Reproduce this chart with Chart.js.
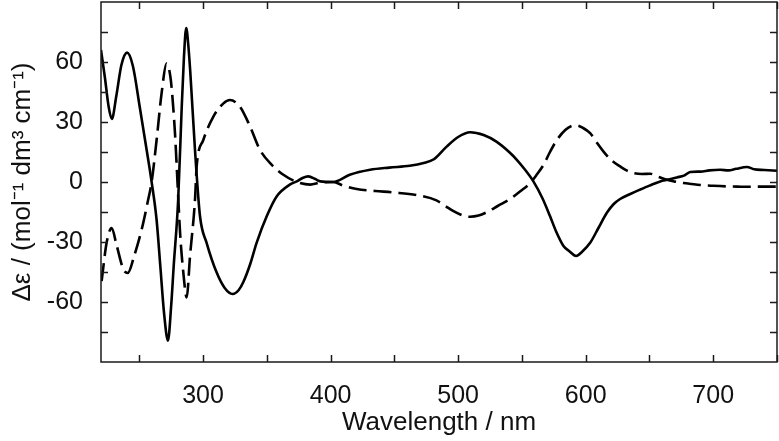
<!DOCTYPE html>
<html>
<head>
<meta charset="utf-8">
<script src="https://cdn.jsdelivr.net/npm/chart.js@4/dist/chart.umd.min.js"></script>
<style>
  html, body { margin: 0; padding: 0; background: #fff; }
  #wrap { width: 779px; height: 441px; }
</style>
</head>
<body>
<div id="wrap"><canvas id="c" width="779" height="441"></canvas></div>
<script>
// ---- data ----
const solidWavelength = [220,223,226,228.5,232,236,240.5,245,250.5,255.8,259.7,263.6,266.5,269.5,272.5,275,277,280.5,283.2,285,286.8,288.5,290,293.7,297.6,302.8,310.7,317,323.2,328,331.6,337,342,350,357.7,368,373.5,378,382.6,388,392,402,415,431,446,462,473,481,491,500,509.4,520,530,540,546,552,559,566,572,577,582.6,587,592.5,597,603.5,610,616.6,622,627,635,642.7,650,658.4,665,671.5,677,682,690,697,705.5,712,718,726.4,732,740,750];
const solidValues = [66,52.5,37.6,31.5,43,58.5,64.7,58,37,16,0,-19,-42,-66,-79.3,-62,-42,-9,36,62,77,68,55,16,-17,-30.4,-45.3,-53,-56,-54,-50,-41,-30.4,-17,-7.2,-1.3,0.3,2,2.8,1.5,0.3,0,3.6,6.1,7.2,8.1,9.5,11.4,17.7,22.5,24.9,23.5,20.2,15,11.1,6.5,0.3,-8,-17,-25,-32,-34.5,-37,-35,-30.4,-23,-15.4,-11,-8.5,-6,-3.8,-1.8,0.3,1.2,2.3,3.2,5,5.2,5.8,6.1,5.8,6.6,7.5,6.4,6,5.6];

const dashedWavelength = [220.5,224.4,228.4,232,237.5,241,246,251.9,257,259.7,263.6,267.5,271.4,273.5,275.3,278,280,282,284.5,287.2,289.8,293.7,295,300.2,308,316,321,329,336.9,344.7,353.9,363,373.5,384,392,402,410,420.5,435,449.3,470,483,490,496.4,503,509.4,516,522.5,531,540.8,549,556.5,562,567,572,577.4,584,589,593,598,603.5,609,614,620,627,632,637.5,644,650.6,657,663.6,670,676.7,683,689.8,700,710.7,719,727,735,742,750];
const dashedValues = [-49.5,-30.4,-23,-31,-43.6,-45.5,-37,-23.7,-8.8,0,21,44.3,59.2,56,47.6,24.4,-0.5,-25.4,-45,-57.7,-37,-8.8,7.8,21,32.6,39.3,41,37.6,27.7,16,8.6,3.6,0,-1.3,-0.3,0,-1.8,-3.5,-4.5,-5.2,-6.8,-9.2,-12,-14.6,-16.6,-17.4,-16.8,-15.1,-12,-8.5,-4.5,-0.5,4,8.6,15,21,26,28,28.3,27,24.4,19.5,15.2,11,7.8,5.8,4.5,4,4.1,2.6,1.1,0.2,-0.5,-1,-1.5,-1.9,-2.2,-2.3,-2.4,-2.3,-2.3,-2.3];

const xLabelTicks = [300,400,500,600,700];
const xMarkTicks = [250,300,350,400,450,500,550,600,650,700,750];
const yLabelTicks = [-60,-30,0,30,60];
const yMarkTicks = [-75,-60,-45,-30,-15,0,15,30,45,60,75];

const xTitle = 'Wavelength / nm';
const yTitle = 'Δε / (mol⁻¹ dm³ cm⁻¹)';

function toPoints(xs, ys) { return xs.map((x, i) => ({ x: x, y: ys[i] })); }

const framePlugin = {
  id: 'frameTicks',
  afterDatasetsDraw(chart) {
    const { ctx, chartArea: a, scales } = chart;
    ctx.save();
    ctx.strokeStyle = '#1a1a1a';
    ctx.lineWidth = 1.5;
    ctx.strokeRect(a.left, a.top, a.right - a.left, a.bottom - a.top);
    const L = 7;
    ctx.beginPath();
    xMarkTicks.forEach(v => {
      const px = Math.round(scales.x.getPixelForValue(v)) + 0.5;
      ctx.moveTo(px, a.bottom); ctx.lineTo(px, a.bottom - L);
      ctx.moveTo(px, a.top); ctx.lineTo(px, a.top + L);
    });
    yMarkTicks.forEach(v => {
      const py = Math.round(scales.y.getPixelForValue(v)) + 0.5;
      ctx.moveTo(a.left, py); ctx.lineTo(a.left + L, py);
      ctx.moveTo(a.right, py); ctx.lineTo(a.right - L, py);
    });
    ctx.stroke();
    ctx.restore();
  }
};

new Chart(document.getElementById('c'), {
  type: 'line',
  data: {
    datasets: [
      {
        data: toPoints(solidWavelength, solidValues),
        borderColor: '#000',
        borderWidth: 2.6,
        pointRadius: 0,
        cubicInterpolationMode: 'monotone',
        fill: false
      },
      {
        data: toPoints(dashedWavelength, dashedValues),
        borderColor: '#000',
        borderWidth: 2.6,
        borderDash: [18, 7],
        pointRadius: 0,
        cubicInterpolationMode: 'monotone',
        fill: false
      }
    ]
  },
  options: {
    responsive: false,
    animation: false,
    devicePixelRatio: 1,
    layout: { padding: { top: 2, right: 2, left: 0, bottom: 0 } },
    plugins: { legend: { display: false }, tooltip: { enabled: false } },
    scales: {
      x: {
        type: 'linear',
        min: 220, max: 750,
        afterBuildTicks: s => { s.ticks = xLabelTicks.map(v => ({ value: v })); },
        afterFit: s => { s.height = 79; s.paddingLeft = 0; s.paddingRight = 0; },
        grid: { display: false, drawTicks: false },
        border: { display: false },
        ticks: { color: '#111', font: { family: 'Liberation Sans', size: 25 }, padding: 19, maxRotation: 0, autoSkip: false },
        title: { display: true, text: xTitle, color: '#111', font: { family: 'Liberation Sans', size: 26 }, padding: { top: 0, bottom: 3 } }
      },
      y: {
        type: 'linear',
        min: -90, max: 90,
        afterBuildTicks: s => { s.ticks = yLabelTicks.map(v => ({ value: v })); },
        afterFit: s => { s.width = 101; s.paddingTop = 0; s.paddingBottom = 0; },
        grid: { display: false, drawTicks: false },
        border: { display: false },
        ticks: { color: '#111', font: { family: 'Liberation Sans', size: 25 }, padding: 18, autoSkip: false },
        title: { display: true, text: yTitle, color: '#111', font: { family: 'Liberation Sans', size: 26 }, padding: { top: 7, bottom: 0 } }
      }
    }
  },
  plugins: [framePlugin]
});
</script>
</body>
</html>
